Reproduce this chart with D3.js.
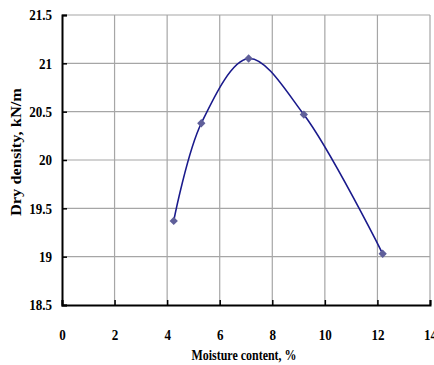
<!DOCTYPE html>
<html>
<head>
<meta charset="utf-8">
<script src="https://cdn.jsdelivr.net/npm/d3@7"></script>
<style>
  body { margin: 0; background: #fff; }
  text { font-family: "Liberation Serif", "Times New Roman", serif; font-weight: bold; }
</style>
</head>
<body>
<div id="chart"></div>
<script>
var moisture = [4.25, 5.3, 7.1, 9.2, 12.2];
var density = [19.37, 20.38, 21.05, 20.47, 19.03];
var xTicks = [0, 2, 4, 6, 8, 10, 12, 14];
var yTicks = [18.5, 19, 19.5, 20, 20.5, 21, 21.5];

var width = 434, height = 365;
var margin = {left: 62, right: 4, top: 15, bottom: 60};

var svg = d3.select('#chart').append('svg')
    .attr('width', width)
    .attr('height', height);

var x = d3.scaleLinear().domain([0, 14]).range([margin.left, width - margin.right]);
var y = d3.scaleLinear().domain([18.5, 21.5]).range([height - margin.bottom, margin.top]);

// squeeze the serif text a bit, like the narrow bold font in the original
function squeeze(sel, k){
  sel.each(function(){
    var w = this.getComputedTextLength();
    d3.select(this).attr('textLength', w * k).attr('lengthAdjust', 'spacingAndGlyphs');
  });
}

// grid
svg.append('g').selectAll('line.gx')
    .data(xTicks.slice(1))
    .enter().append('line')
    .attr('x1', function(d){ return x(d); })
    .attr('x2', function(d){ return x(d); })
    .attr('y1', y(18.5)).attr('y2', y(21.5))
    .style('stroke', '#a6a6a6').style('stroke-width', 1.2);

svg.append('g').selectAll('line.gy')
    .data(yTicks.slice(1))
    .enter().append('line')
    .attr('x1', x(0)).attr('x2', x(14))
    .attr('y1', function(d){ return y(d); })
    .attr('y2', function(d){ return y(d); })
    .style('stroke', '#a6a6a6').style('stroke-width', 1.2);

// axes
var xAxis = d3.axisBottom(x).tickValues(xTicks).tickSize(-5).tickPadding(24);
var yAxis = d3.axisLeft(y).tickValues(yTicks).tickSize(-5).tickPadding(10)
    .tickFormat(function(d){ return d3.format('')(d); });

var gx = svg.append('g').attr('transform', 'translate(0,' + y(18.5) + ')').call(xAxis);
var gy = svg.append('g').attr('transform', 'translate(' + x(0) + ',0)').call(yAxis);

[gx, gy].forEach(function(g){
  g.select('.domain').style('stroke', '#000').style('stroke-width', 2);
  g.selectAll('.tick line').style('stroke', '#000').style('stroke-width', 1.5);
  g.selectAll('.tick text').style('font-size', '15px').style('fill', '#000')
    .style('font-family', '"Liberation Serif", serif').style('font-weight', 'bold')
    .call(squeeze, 0.87);
});

// curve
var line = d3.line()
    .x(function(d, i){ return x(moisture[i]); })
    .y(function(d, i){ return y(density[i]); })
    .curve(d3.curveCatmullRom.alpha(0.5));

svg.append('path')
    .attr('d', line(density))
    .style('fill', 'none')
    .style('stroke', '#1a1a8c')
    .style('stroke-width', 1.6);

var diamond = d3.symbol().type(d3.symbolDiamond2).size(44);
svg.selectAll('.pt')
    .data(density)
    .enter().append('path')
    .attr('d', diamond)
    .attr('transform', function(d, i){ return 'translate(' + x(moisture[i]) + ',' + y(d) + ')'; })
    .style('fill', '#5f5f9a');

// labels
svg.append('text')
    .attr('x', 244).attr('y', 360)
    .attr('text-anchor', 'middle')
    .style('font-size', '15px')
    .text('Moisture content, %')
    .attr('textLength', 105).attr('lengthAdjust', 'spacingAndGlyphs');

svg.append('text')
    .attr('transform', 'translate(21,152) rotate(-90)')
    .attr('text-anchor', 'middle')
    .style('font-size', '15px')
    .text('Dry density, kN/m')
    .attr('textLength', 128).attr('lengthAdjust', 'spacingAndGlyphs');
</script>
</body>
</html>
